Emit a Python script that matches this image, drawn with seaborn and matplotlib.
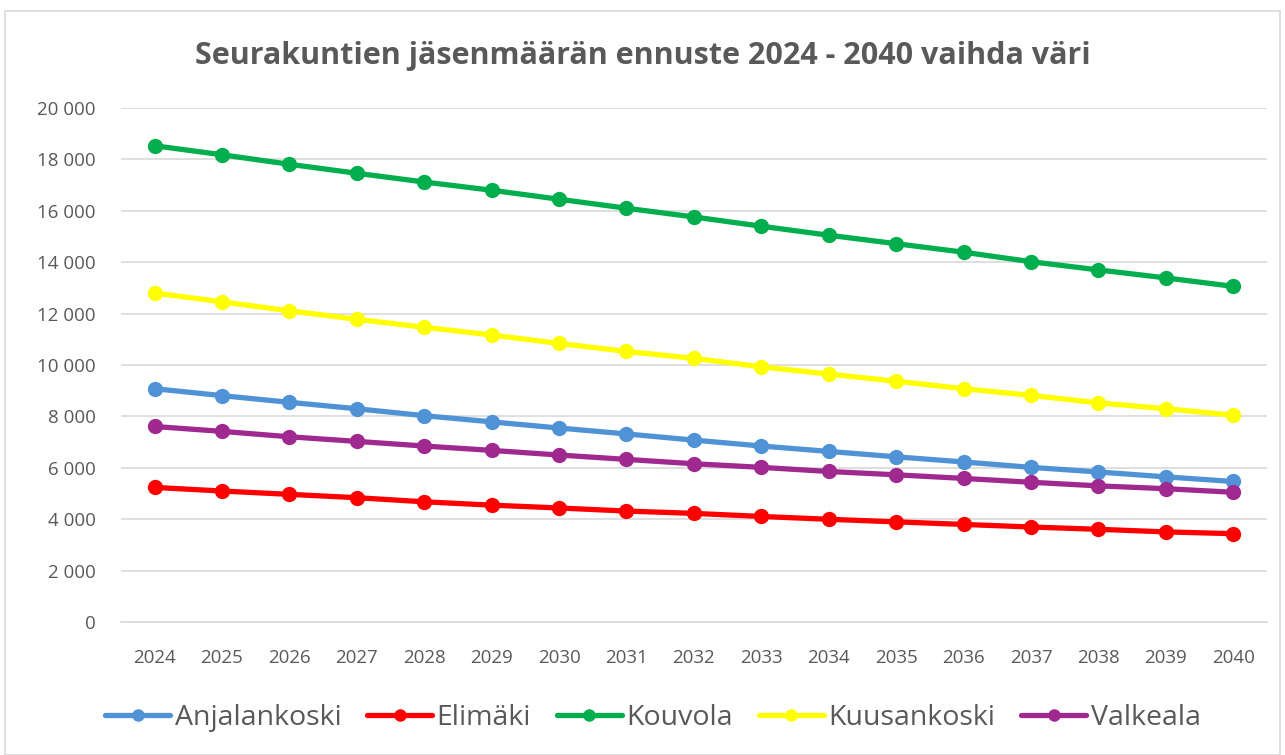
import matplotlib
matplotlib.use("Agg")
import matplotlib.pyplot as plt
import matplotlib.ticker as mticker
from matplotlib.patches import Rectangle
import seaborn as sns
import pandas as pd

years = list(range(2024, 2041))
anjalankoski = [9080, 8810, 8550, 8300, 8030, 7790, 7550, 7320, 7080, 6850, 6640, 6430, 6230, 6020, 5840, 5650, 5470]
elimaki = [5240, 5100, 4970, 4840, 4680, 4550, 4440, 4320, 4230, 4110, 4000, 3900, 3800, 3700, 3610, 3510, 3440]
kouvola = [18530, 18180, 17810, 17460, 17120, 16800, 16450, 16100, 15760, 15400, 15050, 14720, 14390, 14020, 13700, 13390, 13060]
kuusankoski = [12800, 12460, 12110, 11780, 11470, 11170, 10840, 10530, 10260, 9930, 9650, 9370, 9080, 8820, 8530, 8300, 8050]
valkeala = [7610, 7420, 7210, 7030, 6850, 6680, 6500, 6330, 6160, 6020, 5860, 5730, 5590, 5440, 5300, 5190, 5050]

series_names = ["Anjalankoski", "Elimäki", "Kouvola", "Kuusankoski", "Valkeala"]
series_values = [anjalankoski, elimaki, kouvola, kuusankoski, valkeala]
colors = ["#4F93D6", "#FF0000", "#00AE4D", "#FFFF00", "#A0298F"]
title = "Seurakuntien jäsenmäärän ennuste 2024 - 2040 vaihda väri"

rows = []
for name, vals in zip(series_names, series_values):
    for y, v in zip(years, vals):
        rows.append({"Vuosi": y, "Jäsenet": v, "Seurakunta": name})
df = pd.DataFrame(rows)

sns.set_theme(style="white")
plt.rcParams["font.family"] = ["Open Sans", "DejaVu Sans"]

fig = plt.figure(figsize=(12.85, 7.55), dpi=100)
ax = fig.add_axes([0.094, 0.176, 0.892, 0.681])

sns.lineplot(data=df, x="Vuosi", y="Jäsenet", hue="Seurakunta",
             palette=dict(zip(series_names, colors)), marker="o",
             markersize=11, markeredgewidth=0, linewidth=3.8, ax=ax,
             legend=True)

ax.set_xlim(2023.5, 2040.5)
ax.set_ylim(0, 20000)
ax.set_xticks(years)
ax.set_xticklabels([str(y) for y in years])
ax.yaxis.set_major_locator(mticker.MultipleLocator(2000))
ax.yaxis.set_major_formatter(mticker.FuncFormatter(lambda v, p: f"{int(v):,}".replace(",", " ")))
ax.grid(axis="y", color="#D9D9D9", linewidth=1.2)
ax.set_axisbelow(True)
for s in ["top", "right", "left"]:
    ax.spines[s].set_visible(False)
ax.spines["bottom"].set_color("#D9D9D9")
ax.spines["bottom"].set_linewidth(1.2)
ax.tick_params(axis="both", labelsize=13.5, colors="#595959", length=0)
ax.tick_params(axis="x", pad=19)
ax.tick_params(axis="y", pad=18)
ax.set_xlabel("")
ax.set_ylabel("")

fig.text(0.5, 0.926, title, ha="center", va="center", fontsize=22,
         fontweight="bold", color="#595959")

handles, labels = ax.get_legend_handles_labels()
for h in handles:
    h.set_markersize(9)
leg = ax.legend(handles, labels, loc="center", bbox_to_anchor=(0.508, 0.049),
                bbox_transform=fig.transFigure, ncol=5, frameon=False,
                fontsize=20.5, handlelength=2.3, handletextpad=0.15,
                columnspacing=0.9, labelcolor="#595959")

fig.patches.append(Rectangle((0.004, 0.0), 0.992, 0.985, transform=fig.transFigure,
                             fill=False, edgecolor="#D9D9D9", linewidth=1.2))

fig.savefig("out.png", dpi=100, facecolor="white")
